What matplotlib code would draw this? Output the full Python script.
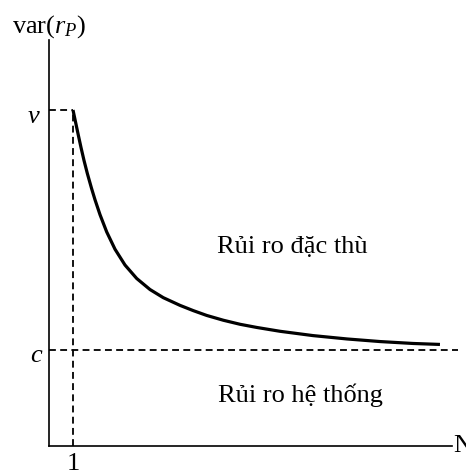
# Portfolio variance vs number of assets
import matplotlib
matplotlib.use("Agg")
import matplotlib.pyplot as plt

plt.rcParams['font.family'] = ['Liberation Serif', 'DejaVu Serif']
plt.rcParams['mathtext.fontset'] = 'custom'
plt.rcParams['mathtext.rm'] = 'Liberation Serif'
plt.rcParams['mathtext.it'] = 'Liberation Serif:italic'

# values
v_level = 3.5          # variance of a single asset
c_level = 1.0          # systematic (covariance) floor
n_start = 1
n_assets = [1.0, 1.11, 1.22, 1.333, 1.458, 1.596, 1.771, 1.917, 2.125, 2.404,
            2.75, 3.167, 3.654, 4.208, 4.763, 5.458, 6.013, 6.571, 7.263,
            7.958, 8.654, 9.625, 11.0, 12.417, 13.79, 15.17, 16.29]
port_var = [3.5, 3.37, 3.24, 3.11, 2.975, 2.84, 2.685, 2.565, 2.41, 2.23,
            2.05, 1.885, 1.745, 1.63, 1.545, 1.465, 1.41, 1.36, 1.31,
            1.268, 1.235, 1.195, 1.15, 1.115, 1.088, 1.068, 1.058]
label_specific = "Rủi ro đặc thù"
label_system = "Rủi ro hệ thống"

fig = plt.figure(figsize=(4.66, 4.74), dpi=100)
ax = fig.add_axes([49/466, 28/474, 403/466, 406/474])
ax.set_xlim(0, 403/24)
ax.set_ylim(0, 406/96)

for s in ['top', 'right']:
    ax.spines[s].set_visible(False)
for s in ['left', 'bottom']:
    ax.spines[s].set_linewidth(1.2)
ax.set_xticks([])
ax.set_yticks([])

# curve
ax.plot(n_assets, port_var, color='black', lw=2.3, solid_joinstyle='round',
        solid_capstyle='butt')

# dashed guides
dash = dict(color='black', lw=1.3, dashes=(3.8, 2.4), clip_on=False)
ax.plot([0, n_start], [v_level, v_level], **dash)
ax.plot([n_start, n_start], [0, v_level], **dash)
ax.plot([0, 17.04], [c_level, c_level], **dash)

fs = 19
ax.text(-0.42, 3.365, "v", fontsize=fs, style='italic', ha='right', va='baseline')
ax.text(-0.29, 0.875, "c", fontsize=fs, style='italic', ha='right', va='baseline')
ax.text(n_start, -0.07, "1", fontsize=fs, ha='center', va='top')
ax.text(16.83, 0.0, "N", fontsize=fs, ha='left', va='center', clip_on=False)
ax.text(-1.54, 4.31, r"var($r_P$)", fontsize=fs, ha='left', va='baseline')
ax.text(7.0, 2.01, label_specific, fontsize=fs, ha='left', va='baseline')
ax.text(7.04, 0.458, label_system, fontsize=fs, ha='left', va='baseline')

fig.savefig("out.png", dpi=100)
